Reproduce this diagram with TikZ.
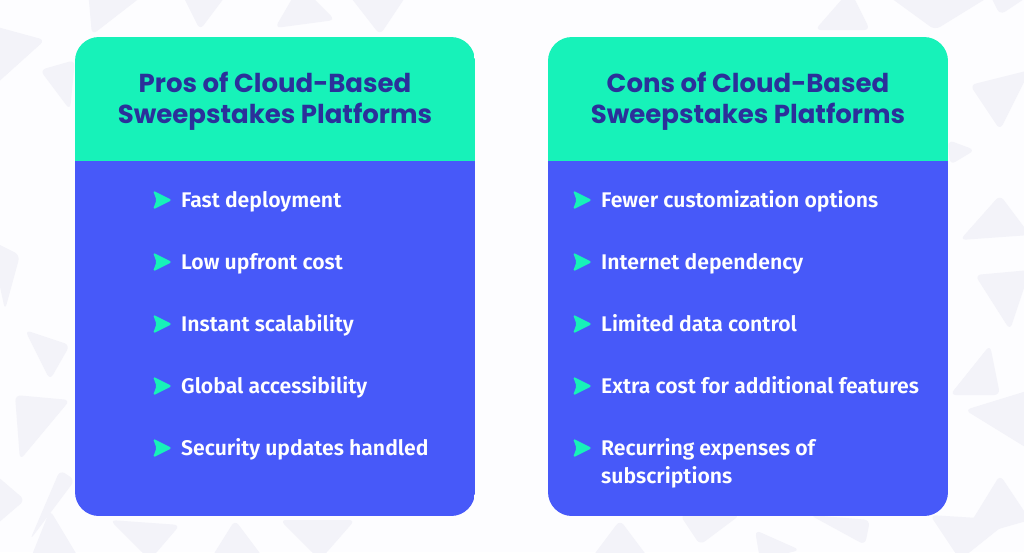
\documentclass[tikz,border=0pt]{standalone}
\usepackage{fontspec}
\setmainfont{Fira Sans}
\newfontfamily\titlefont{Poppins}[UprightFont=* Bold]
\newfontfamily\itemfont{Fira Sans}[UprightFont=* SemiBold]
\definecolor{bgcol}{HTML}{FDFDFF}
\definecolor{tricol}{HTML}{F3F3F9}
\definecolor{headcol}{HTML}{17F2B9}
\definecolor{bodycol}{HTML}{4759F9}
\definecolor{titlecol}{HTML}{2B309A}
\tikzset{
  tri/.style={fill=tricol, rounded corners=6pt},
  titletext/.style={font=\titlefont\fontsize{26}{31.5}\selectfont, text=titlecol, align=center, inner sep=0pt},
  itemtext/.style={font=\itemfont\fontsize{21.2}{27.5}\selectfont, text=white, anchor=base west, inner sep=0pt, align=left},
  bulletshape/.style={fill=headcol, rounded corners=1.8pt},
}
\newcommand{\bulletat}[2]{%
  \fill[bulletshape] (#1,#2-9.5) -- (#1+19,#2) -- (#1,#2+9.5) -- (#1+3.5,#2) -- cycle;}
\begin{document}
\begin{tikzpicture}[x=1pt,y=-1pt]
\fill[bgcol] (0,0) rectangle (1024,552);
\useasboundingbox (0,0) rectangle (1024,552);
% faint background triangles
\begin{scope}
\clip (0,0) rectangle (1024,552);
\fill[tri] (88,-10) -- (150,-10) -- (92,35) -- cycle;
\fill[tri] (180,-10) -- (230,-10) -- (200,30) -- cycle;
\fill[tri] (275,28) -- (300,-15) -- (335,20) -- cycle;
\fill[tri] (345,-10) -- (410,-10) -- (380,35) -- cycle;
\fill[tri] (815,30) -- (850,-10) -- (870,30) -- cycle;
\fill[tri] (880,-10) -- (1000,-10) -- (935,30) -- cycle;
\fill[tri] (990,-5) -- (1030,-5) -- (1000,15) -- cycle;
\fill[tri] (-10,25) -- (45,40) -- (-5,85) -- cycle;
\fill[tri] (40,70) -- (75,60) -- (70,110) -- cycle;
\fill[tri] (-10,240) -- (20,255) -- (5,310) -- cycle;
\fill[tri] (25,330) -- (70,345) -- (50,380) -- cycle;
\fill[tri] (15,395) -- (70,400) -- (20,460) -- cycle;
\fill[tri] (60,470) -- (75,480) -- (30,540) -- cycle;
\fill[tri] (-10,470) -- (25,500) -- (-10,530) -- cycle;
\fill[tri] (30,560) -- (50,510) -- (80,560) -- cycle;
\fill[tri] (110,520) -- (180,525) -- (150,560) -- cycle;
\fill[tri] (210,560) -- (235,520) -- (265,560) -- cycle;
\fill[tri] (280,520) -- (355,520) -- (320,560) -- cycle;
\fill[tri] (590,560) -- (620,520) -- (650,560) -- cycle;
\fill[tri] (680,515) -- (740,515) -- (700,545) -- cycle;
\fill[tri] (755,530) -- (800,550) -- (760,560) -- cycle;
\fill[tri] (810,515) -- (870,520) -- (865,545) -- cycle;
\fill[tri] (930,515) -- (1010,520) -- (960,560) -- cycle;
\fill[tri] (970,85) -- (1030,70) -- (1000,130) -- cycle;
\fill[tri] (948,140) -- (975,150) -- (950,165) -- cycle;
\fill[tri] (960,240) -- (1000,195) -- (1030,235) -- cycle;
\fill[tri] (975,275) -- (1030,270) -- (1010,330) -- cycle;
\fill[tri] (950,395) -- (990,345) -- (1000,395) -- cycle;
\fill[tri] (965,410) -- (1030,390) -- (1030,450) -- cycle;
\fill[tri] (960,540) -- (1000,475) -- (1030,520) -- cycle;
\end{scope}
% cards
\foreach \cx/\nm in {75/L, 548/R}{
  \begin{scope}
    \clip[rounded corners=24pt] (\cx,37) rectangle (\cx+400,516);
    \fill[headcol] (\cx,37) rectangle (\cx+400,161);
    \fill[bodycol] (\cx,161) rectangle (\cx+400,516);
  \end{scope}
}
% titles
\node[titletext] (titleL) at (275,101.5) {Pros of Cloud-Based\\Sweepstakes Platforms};
\node[titletext] (titleR) at (748,101.5) {Cons of Cloud-Based\\Sweepstakes Platforms};
% left items
\node[itemtext] (l1) at (181,207.5) {Fast deployment};
\node[itemtext] (l2) at (181,269.5) {Low upfront cost};
\node[itemtext] (l3) at (181,331.5) {Instant scalability};
\node[itemtext] (l4) at (181,393.5) {Global accessibility};
\node[itemtext] (l5) at (181,455.5) {Security updates handled};
\foreach \yy in {200,262,324,386,448}{\bulletat{153}{\yy}}
% right items
\node[itemtext] (r1) at (601,207.5) {Fewer customization options};
\node[itemtext] (r2) at (601,269.5) {Internet dependency};
\node[itemtext] (r3) at (601,331.5) {Limited data control};
\node[itemtext] (r4) at (601,393.5) {Extra cost for additional features};
\node[itemtext] (r5) at (601,483) {Recurring expenses of\\subscriptions};
\foreach \yy in {200,262,324,386,448}{\bulletat{573}{\yy}}
\end{tikzpicture}
\end{document}
